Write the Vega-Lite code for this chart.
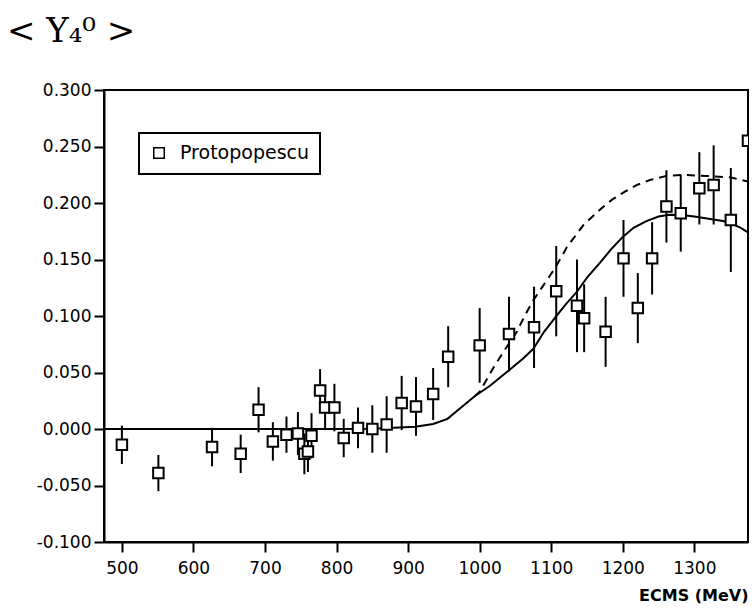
{
  "$schema": "https://vega.github.io/schema/vega-lite/v6.json",
  "width": 644,
  "height": 452,
  "autosize": {"type": "none"},
  "padding": {"left": 104, "top": 90, "right": 5, "bottom": 66},
  "background": "white",
  "title": {
    "text": "< Y₄⁰ >",
    "anchor": "start",
    "frame": "group",
    "font": "DejaVu Serif",
    "fontSize": 34,
    "fontWeight": "normal",
    "color": "black",
    "baseline": "alphabetic",
    "offset": 5,
    "dx": -97
  },
  "datasets": {
    "points": [
      {"x": 500, "y": -0.014, "err": 0.017, "series": "Protopopescu"},
      {"x": 551, "y": -0.039, "err": 0.016, "series": "Protopopescu"},
      {"x": 626, "y": -0.016, "err": 0.017, "series": "Protopopescu"},
      {"x": 666, "y": -0.022, "err": 0.017, "series": "Protopopescu"},
      {"x": 691, "y": 0.017, "err": 0.020, "series": "Protopopescu"},
      {"x": 711, "y": -0.011, "err": 0.017, "series": "Protopopescu"},
      {"x": 730, "y": -0.005, "err": 0.016, "series": "Protopopescu"},
      {"x": 746, "y": -0.004, "err": 0.019, "series": "Protopopescu"},
      {"x": 755, "y": -0.022, "err": 0.018, "series": "Protopopescu"},
      {"x": 760, "y": -0.020, "err": 0.018, "series": "Protopopescu"},
      {"x": 765, "y": -0.006, "err": 0.020, "series": "Protopopescu"},
      {"x": 777, "y": 0.034, "err": 0.019, "series": "Protopopescu"},
      {"x": 784, "y": 0.019, "err": 0.020, "series": "Protopopescu"},
      {"x": 797, "y": 0.019, "err": 0.021, "series": "Protopopescu"},
      {"x": 810, "y": -0.008, "err": 0.017, "series": "Protopopescu"},
      {"x": 830, "y": 0.001, "err": 0.018, "series": "Protopopescu"},
      {"x": 850, "y": 0.000, "err": 0.021, "series": "Protopopescu"},
      {"x": 870, "y": 0.004, "err": 0.025, "series": "Protopopescu"},
      {"x": 891, "y": 0.023, "err": 0.024, "series": "Protopopescu"},
      {"x": 911, "y": 0.020, "err": 0.026, "series": "Protopopescu"},
      {"x": 935, "y": 0.031, "err": 0.023, "series": "Protopopescu"},
      {"x": 956, "y": 0.064, "err": 0.027, "series": "Protopopescu"},
      {"x": 1000, "y": 0.074, "err": 0.033, "series": "Protopopescu"},
      {"x": 1041, "y": 0.084, "err": 0.033, "series": "Protopopescu"},
      {"x": 1076, "y": 0.090, "err": 0.036, "series": "Protopopescu"},
      {"x": 1107, "y": 0.122, "err": 0.040, "series": "Protopopescu"},
      {"x": 1136, "y": 0.109, "err": 0.041, "series": "Protopopescu"},
      {"x": 1146, "y": 0.098, "err": 0.030, "series": "Protopopescu"},
      {"x": 1176, "y": 0.086, "err": 0.031, "series": "Protopopescu"},
      {"x": 1201, "y": 0.151, "err": 0.034, "series": "Protopopescu"},
      {"x": 1221, "y": 0.107, "err": 0.031, "series": "Protopopescu"},
      {"x": 1241, "y": 0.151, "err": 0.032, "series": "Protopopescu"},
      {"x": 1261, "y": 0.197, "err": 0.032, "series": "Protopopescu"},
      {"x": 1281, "y": 0.191, "err": 0.034, "series": "Protopopescu"},
      {"x": 1307, "y": 0.213, "err": 0.032, "series": "Protopopescu"},
      {"x": 1327, "y": 0.216, "err": 0.035, "series": "Protopopescu"},
      {"x": 1351, "y": 0.185, "err": 0.046, "series": "Protopopescu"},
      {"x": 1375, "y": 0.255, "err": 0.060, "series": "Protopopescu"}
    ],
    "solid": [
      {"x": 475, "y": 0.0}, {"x": 600, "y": 0.0}, {"x": 700, "y": 0.0}, {"x": 800, "y": 0.0},
      {"x": 850, "y": 0.0003}, {"x": 880, "y": 0.001}, {"x": 910, "y": 0.002}, {"x": 935, "y": 0.0045},
      {"x": 955, "y": 0.009}, {"x": 972, "y": 0.018}, {"x": 993, "y": 0.029}, {"x": 1014, "y": 0.038},
      {"x": 1041, "y": 0.052}, {"x": 1060, "y": 0.062}, {"x": 1075, "y": 0.071}, {"x": 1090, "y": 0.086},
      {"x": 1106, "y": 0.099}, {"x": 1120, "y": 0.110}, {"x": 1136, "y": 0.1215}, {"x": 1150, "y": 0.134},
      {"x": 1168, "y": 0.147}, {"x": 1185, "y": 0.160}, {"x": 1200, "y": 0.170}, {"x": 1215, "y": 0.178},
      {"x": 1233, "y": 0.184}, {"x": 1250, "y": 0.188}, {"x": 1265, "y": 0.1895}, {"x": 1282, "y": 0.1894},
      {"x": 1300, "y": 0.188}, {"x": 1320, "y": 0.186}, {"x": 1340, "y": 0.184}, {"x": 1351, "y": 0.182},
      {"x": 1365, "y": 0.178}, {"x": 1375, "y": 0.174}
    ],
    "dashed": [
      {"x": 993, "y": 0.029}, {"x": 1000, "y": 0.033}, {"x": 1019, "y": 0.054}, {"x": 1035, "y": 0.070},
      {"x": 1052, "y": 0.086}, {"x": 1062, "y": 0.099}, {"x": 1075, "y": 0.114}, {"x": 1090, "y": 0.128},
      {"x": 1105, "y": 0.142}, {"x": 1122, "y": 0.161}, {"x": 1145, "y": 0.1805}, {"x": 1168, "y": 0.194},
      {"x": 1185, "y": 0.203}, {"x": 1203, "y": 0.210}, {"x": 1220, "y": 0.216}, {"x": 1238, "y": 0.2204},
      {"x": 1261, "y": 0.224}, {"x": 1285, "y": 0.2248}, {"x": 1317, "y": 0.224}, {"x": 1350, "y": 0.2227},
      {"x": 1375, "y": 0.219}
    ]
  },
  "encoding": {
    "x": {
      "field": "x",
      "type": "quantitative",
      "scale": {"domain": [475, 1375], "nice": false, "zero": false},
      "axis": {
        "values": [500, 600, 700, 800, 900, 1000, 1100, 1200, 1300],
        "format": "d",
        "tickSize": 10,
        "labelPadding": 8,
        "title": "ECMS (MeV)",
        "titleAnchor": "end",
        "titleFont": "DejaVu Sans",
        "titleFontWeight": "bold",
        "titleFontSize": 16,
        "titlePadding": 11
      }
    },
    "y": {
      "field": "y",
      "type": "quantitative",
      "scale": {"domain": [-0.1, 0.3], "nice": false, "zero": false},
      "axis": {
        "values": [-0.1, -0.05, 0, 0.05, 0.1, 0.15, 0.2, 0.25, 0.3],
        "labelExpr": "(datum.value < -0.0001 ? '-' : '') + format(abs(datum.value), '.3f')",
        "tickSize": 10,
        "labelPadding": 3,
        "title": null
      }
    }
  },
  "layer": [
    {
      "data": {"name": "solid"},
      "mark": {"type": "line", "color": "black", "strokeWidth": 2, "clip": true},
      "encoding": {}
    },
    {
      "data": {"name": "dashed"},
      "mark": {"type": "line", "color": "black", "strokeWidth": 2, "strokeDash": [8, 6], "clip": true},
      "encoding": {}
    },
    {
      "data": {"name": "points"},
      "mark": {"type": "errorbar", "ticks": false, "clip": true, "rule": {"strokeWidth": 2, "color": "black"}},
      "encoding": {"yError": {"field": "err"}}
    },
    {
      "data": {"name": "points"},
      "mark": {"type": "point", "shape": "square", "filled": false, "fill": "white", "fillOpacity": 1, "stroke": "black", "color": "black", "strokeWidth": 2, "size": 110, "opacity": 1, "clip": true},
      "encoding": {
        "shape": {
          "field": "series",
          "type": "nominal",
          "scale": {"range": ["square"]},
          "legend": {
            "orient": "none",
            "legendX": 35,
            "legendY": 43,
            "title": null,
            "strokeColor": "black",
            "fillColor": "white",
            "padding": 10.5,
            "symbolType": "square",
            "symbolSize": 110,
            "labelFont": "DejaVu Sans",
            "labelFontSize": 19,
            "labelColor": "black",
            "labelOffset": 11.5,
            "encode": {
              "symbols": {
                "update": {
                  "stroke": {"value": "black"},
                  "strokeWidth": {"value": 2},
                  "fill": {"value": "white"},
                  "opacity": {"value": 1},
                  "fillOpacity": {"value": 1},
                  "strokeOpacity": {"value": 1}
                }
              }
            }
          }
        }
      }
    }
  ],
  "config": {
    "view": {"stroke": "black", "strokeWidth": 2},
    "axis": {
      "grid": false,
      "domainColor": "black",
      "domainWidth": 2,
      "tickColor": "black",
      "tickWidth": 2,
      "labelColor": "black",
      "labelFont": "DejaVu Sans",
      "labelFontSize": 17,
      "titleColor": "black"
    },
    "legend": {"strokeWidth": 2}
  }
}
